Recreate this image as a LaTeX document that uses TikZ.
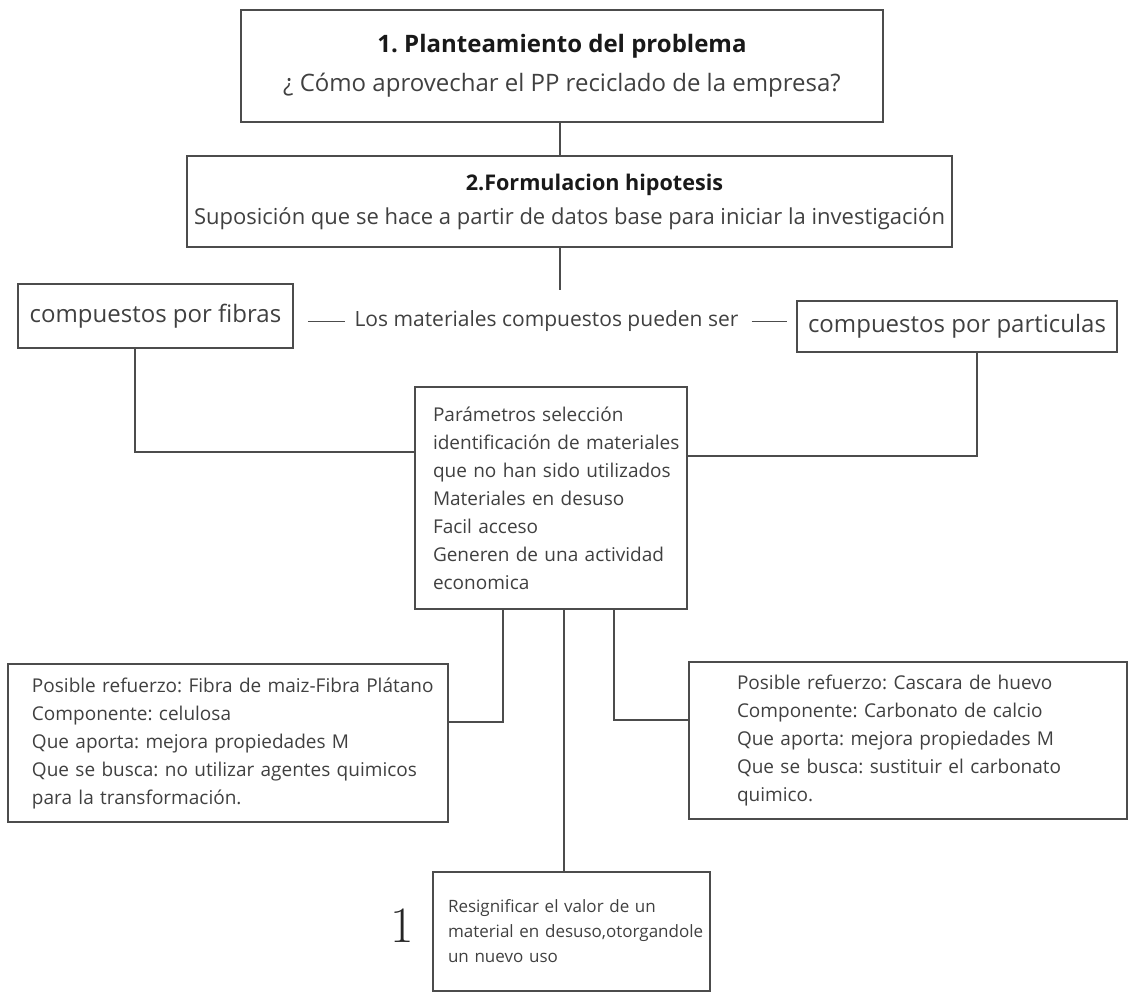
\documentclass[tikz,border=0pt]{standalone}
\usepackage{fontspec}
\setsansfont{Open Sans}
\renewcommand{\familydefault}{\sfdefault}
\usepackage{tikz}
\frenchspacing

\tikzset{
  linea/.style={draw=black!70, line width=1.6pt},
  caja/.style={draw=black!70, line width=1.6pt, rectangle, inner sep=0pt, text=black!75},
  izquierda/.style={caja, align=left, font=\fontsize{19}{28}\selectfont},
}

\begin{document}
\begin{tikzpicture}[x=1pt, y=-1pt]
				  \useasboundingbox (0,0) rectangle (1129,992);
				  %CAJAS SUPERIORES
				  \node[caja, align=center, minimum width=642pt, minimum height=112pt, font=\fontsize{24}{39}\selectfont] (plant) at (562,66)
				    {{\bfseries\color{black!90}1. Planteamiento del problema}\\¿ Cómo aprovechar el PP reciclado de la empresa?};
				  \node[caja, align=center, minimum width=765pt, minimum height=91pt, font=\fontsize{22}{34}\selectfont] (hipo) at (569.5,201.5)
				    {{\fontsize{21.6}{34}\selectfont\bfseries\color{black!90}\hspace*{50pt}2.Formulacion hipotesis}\\Suposición que se hace a partir de datos base para iniciar la investigación};
				  %TIPOS
				  \node[caja, minimum width=275pt, minimum height=64pt, font=\fontsize{24}{28}\selectfont] (fibras) at (155.5,316) {compuestos por fibras};
				  \node[caja, minimum width=320pt, minimum height=51pt, font=\fontsize{24}{28}\selectfont] (particulas) at (957,326.5) {compuestos por particulas};
				  \node[inner sep=0pt, text=black!75, font=\fontsize{21}{25}\selectfont] (lema) at (546.5,321.5) {Los materiales compuestos pueden ser};
				  %PARAMETROS
				  \node[izquierda, text width=272pt, minimum height=222pt] (param) at (551,498)
				    {\leftskip=18pt Parámetros selección\\identificación de materiales\\que no han sido utilizados\\Materiales en desuso\\Facil acceso\\Generen de una actividad\\economica\par};
				  %REFUERZOS
				  \node[izquierda, text width=440pt, minimum height=158pt] (refL) at (228,743)
				    {\leftskip=24pt Posible refuerzo: Fibra de maiz-Fibra Plátano\\Componente: celulosa\\Que aporta: mejora propiedades M\\Que se busca: no utilizar agentes quimicos\\para la transformación.\par};
				  \node[izquierda, text width=438pt, minimum height=157pt] (refR) at (908,740.5)
				    {\leftskip=48pt Posible refuerzo: Cascara de huevo\\Componente: Carbonato de calcio\\Que aporta: mejora propiedades M\\Que se busca: sustituir el carbonato\\quimico.\par};
				  %RESULTADO
				  \node[caja, align=left, text width=277pt, minimum height=119pt, font=\fontsize{17}{25}\selectfont] (resig) at (571.5,931.5)
				    {\leftskip=15pt Resignificar el valor de un\\material en desuso,otorgandole\\un nuevo uso\par};
				  \node[text=black!85, font=\rmfamily\fontsize{51}{51}\selectfont, inner sep=0pt] (uno) at (402,926) {1};

				  %CONECTORES
				  \coordinate (fin) at (560,290);
				  \coordinate (codoA) at (135,452);
				  \coordinate (codoB) at (977,456);
				  \coordinate (codoC) at (503,722);
				  \coordinate (codoD) at (614,720);
				  \coordinate (eje) at (564,0);
				  \draw[linea] (plant.south -| fin) -- (hipo.north -| fin);
				  \draw[linea] (hipo.south -| fin) -- (fin);
				  \draw[linea] (fibras.south -| codoA) -- (codoA) -- (param.west |- codoA);
				  \draw[linea] (particulas.south -| codoB) -- (codoB) -- (param.east |- codoB);
				  \draw[linea] (param.south -| codoC) -- (codoC) -- (refL.east |- codoC);
				  \draw[linea] (param.south -| codoD) -- (codoD) -- (refR.west |- codoD);
				  \draw[linea] (param.south -| eje) -- (resig.north -| eje);
				  %GUIONES
				  \draw[linea, line width=1.2pt, shorten <=14pt, shorten >=9pt] (fibras.east |- lema) -- (lema.west);
				  \draw[linea, line width=1.2pt, shorten <=13pt, shorten >=9pt] (lema.east) -- (particulas.west |- lema);
\end{tikzpicture}
\end{document}
